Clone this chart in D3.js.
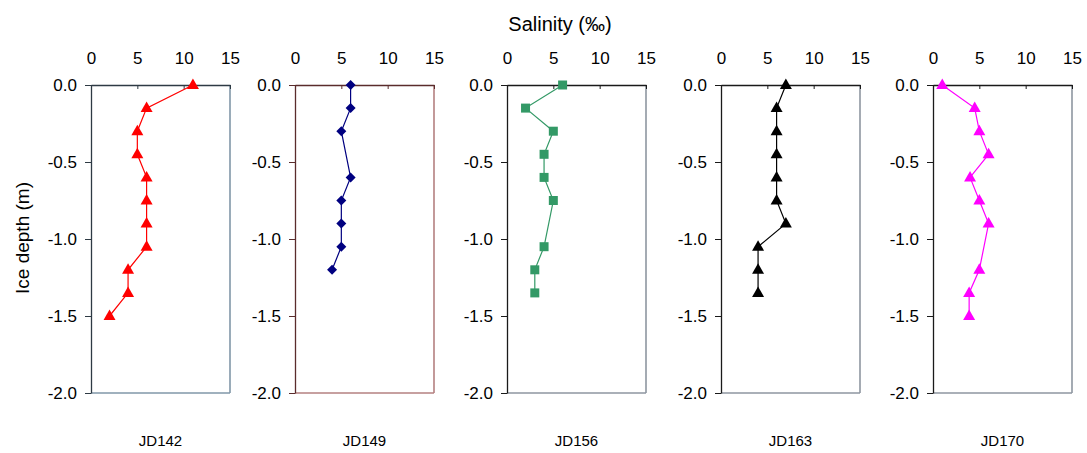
<!DOCTYPE html>
<html>
<head>
<meta charset="utf-8">
<script src="https://cdn.jsdelivr.net/npm/d3@7"></script>
<style>
  html, body { margin: 0; padding: 0; background: #fff; }
  svg { display: block; font-family: "Liberation Sans", Arial, sans-serif; }
</style>
</head>
<body>
<svg id="chart" width="1087" height="453"></svg>
<script>
// Sea-ice salinity profiles, one panel per sampling day
const days = ["JD142", "JD149", "JD156", "JD163", "JD170"];

const depthJD142 = [0, -0.15, -0.3, -0.45, -0.6, -0.75, -0.9, -1.05, -1.2, -1.35, -1.5];
const salJD142   = [11, 6, 5, 5, 6, 6, 6, 6, 4, 4, 2];

const depthJD149 = [0, -0.15, -0.3, -0.6, -0.75, -0.9, -1.05, -1.2];
const salJD149   = [6, 6, 5, 6, 5, 5, 5, 4];

const depthJD156 = [0, -0.15, -0.3, -0.45, -0.6, -0.75, -1.05, -1.2, -1.35];
const salJD156   = [6, 2, 5, 4, 4, 5, 4, 3, 3];

const depthJD163 = [0, -0.15, -0.3, -0.45, -0.6, -0.75, -0.9, -1.05, -1.2, -1.35];
const salJD163   = [7, 6, 6, 6, 6, 6, 7, 4, 4, 4];

const depthJD170 = [0, -0.15, -0.3, -0.45, -0.6, -0.75, -0.9, -1.2, -1.35, -1.5];
const salJD170   = [1, 4.5, 5, 6, 4, 5, 6, 5, 3.9, 3.9];

const salinityTicks = [0, 5, 10, 15];
const depthTicks = [0, -0.5, -1.0, -1.5, -2.0];

const series = [
  { day: days[0], depth: depthJD142, sal: salJD142, color: "#ff0000", marker: "triangle",
    axisColor: "#2e3a44", frameColor: "#8197a8" },
  { day: days[1], depth: depthJD149, sal: salJD149, color: "#000080", marker: "diamond",
    axisColor: "#5a2c2c", frameColor: "#b48080" },
  { day: days[2], depth: depthJD156, sal: salJD156, color: "#339966", marker: "square",
    axisColor: "#1a1a1a", frameColor: "#8e96a0" },
  { day: days[3], depth: depthJD163, sal: salJD163, color: "#000000", marker: "triangle",
    axisColor: "#1a1a1a", frameColor: "#8e96a0" },
  { day: days[4], depth: depthJD170, sal: salJD170, color: "#ff00ff", marker: "triangle",
    axisColor: "#1a1a1a", frameColor: "#8e96a0" }
];

const svg = d3.select("#chart");

// Horizontal placement of each panel's plot area
const panelLeft = [91, 295, 507, 721, 933];
const panelWidth = 139;
const plotTop = 85, plotBottom = 393;

const y = d3.scaleLinear().domain([0, -2]).range([plotTop, plotBottom]);

function markerPath(type) {
  if (type === "triangle") {
    return "M0,-6.5L6,4L-6,4Z";
  }
  if (type === "diamond") {
    return "M0,-5L5,0L0,5L-5,0Z";
  }
  return "M-4.5,-4.5H4.5V4.5H-4.5Z";
}

series.forEach((s, i) => {
  const x0 = panelLeft[i];
  const x = d3.scaleLinear().domain([0, 15]).range([x0, x0 + panelWidth]);
  const g = svg.append("g");

  // Right and bottom frame lines
  g.append("line")
    .attr("x1", x(15)).attr("x2", x(15)).attr("y1", y(0)).attr("y2", y(-2))
    .attr("stroke", s.frameColor).attr("stroke-width", 1.6);
  g.append("line")
    .attr("x1", x(0)).attr("x2", x(15)).attr("y1", y(-2)).attr("y2", y(-2))
    .attr("stroke", s.frameColor).attr("stroke-width", 1.6);

  // Top salinity axis with inward ticks
  const xAxis = g.append("g")
    .attr("transform", `translate(0,${plotTop})`)
    .call(d3.axisTop(x).tickValues(salinityTicks).tickFormat(d3.format("d"))
      .tickSizeInner(-4).tickSizeOuter(0).tickPadding(21));
  xAxis.select(".domain").attr("stroke", s.axisColor).attr("stroke-width", 1.3);
  xAxis.selectAll(".tick line").attr("stroke", s.axisColor);
  xAxis.selectAll(".tick text").attr("font-size", 17).attr("fill", "#000")
    .attr("font-family", "Liberation Sans, Arial, sans-serif");

  // Left depth axis
  const yAxis = g.append("g")
    .attr("transform", `translate(${x0},0)`)
    .call(d3.axisLeft(y).tickValues(depthTicks)
      .tickFormat(d => d3.format(".1f")(d).replace("\u2212", "-"))
      .tickSizeInner(6).tickSizeOuter(0).tickPadding(8));
  yAxis.select(".domain").attr("stroke", s.axisColor).attr("stroke-width", 1.3);
  yAxis.selectAll(".tick line").attr("stroke", s.axisColor);
  yAxis.selectAll(".tick text").attr("font-size", 17).attr("fill", "#000")
    .attr("font-family", "Liberation Sans, Arial, sans-serif");

  const pts = s.depth.map((d, k) => ({ d, v: s.sal[k] }));

  const line = d3.line().x(p => x(p.v)).y(p => y(p.d));
  g.append("path")
    .datum(pts)
    .attr("d", line)
    .attr("fill", "none")
    .attr("stroke", s.color)
    .attr("stroke-width", 1.2);

  g.selectAll(".m")
    .data(pts)
    .enter().append("path")
    .attr("transform", p => `translate(${x(p.v)},${y(p.d)})`)
    .attr("d", markerPath(s.marker))
    .attr("fill", s.color);

  g.append("text")
    .attr("x", x(7.5))
    .attr("y", 446)
    .attr("text-anchor", "middle")
    .attr("font-size", 15)
    .text(s.day);
});

svg.append("text")
  .attr("x", 560).attr("y", 31)
  .attr("text-anchor", "middle")
  .attr("font-size", 20)
  .text("Salinity (‰)");

svg.append("text")
  .attr("transform", "translate(29,238) rotate(-90)")
  .attr("text-anchor", "middle")
  .attr("font-size", 19)
  .text("Ice depth (m)");
</script>
</body>
</html>
